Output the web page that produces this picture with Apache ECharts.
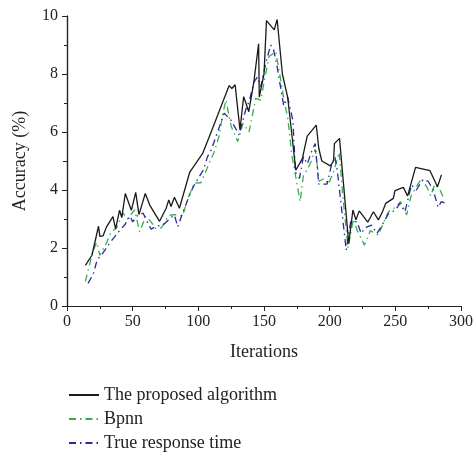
<!DOCTYPE html>
<html>
<head>
<meta charset="utf-8">
<script src="https://cdn.jsdelivr.net/npm/echarts@6/dist/echarts.min.js"></script>
<style>
html, body { margin: 0; padding: 0; background: #fff; }
#chart { width: 476px; height: 456px; }
</style>
</head>
<body>
<div id="chart"></div>
<script>
// values: [iteration, accuracy]
var proposedData = [
	[14,1.4],[19,1.75],[24,2.75],[25,2.4],[27.5,2.42],[30,2.72],[35,3.08],[37,2.66],[40,3.3],[41.7,3.05],
	[44.4,3.88],[49,3.3],[52.3,3.92],[54.8,3.15],[59.6,3.88],[63,3.48],[65.4,3.3],[70.5,2.92],[75.5,3.37],[77.5,3.66],
	[79.2,3.43],[81.8,3.75],[85.6,3.37],[93.5,4.62],[103.3,5.26],[110.8,6.12],[117.2,6.87],[123.5,7.6],[125.5,7.5],[128,7.63],
	[131.7,6.08],[134.5,7.22],[135.8,7.05],[138.4,6.7],[142.2,7.7],[145.9,9.04],[146.4,7.2],[150,8.0],[151.9,9.84],[157.8,9.52],
	[160,9.88],[164,8.0],[168,7.2],[171,6.0],[174.2,4.68],[179.2,5.08],[182.9,5.86],[189.8,6.24],[191.7,5.44],[194,5.0],
	[200.5,4.83],[203,5.0],[203.6,5.6],[207.5,5.78],[214.5,2.16],[217.7,3.31],[220,2.97],[222.5,3.28],[229,2.89],[233.3,3.25],
	[237.1,2.97],[240.2,3.25],[242.7,3.54],[248.5,3.71],[249.7,3.98],[256.1,4.09],[259.3,3.79],[265.4,4.78],[276.3,4.67],[282.1,4.11],
	[285.1,4.52]
];

var bpnnData = [
	[14,0.85],[19.5,1.85],[22.5,2.2],[25,1.75],[30,2.17],[33.8,2.56],[37.6,2.68],[42.7,3.2],[46,3.0],[51.5,3.31],
	[55.3,2.56],[60,3.1],[64,2.9],[68,2.65],[72,2.7],[77,3.1],[80,3.15],[84,3.14],[88,3.1],[92,3.7],
	[97,4.24],[102,4.25],[108.3,4.93],[112,5.3],[116,5.9],[118.5,6.6],[121,7.1],[125,6.2],[130,5.67],[134,6.3],
	[138.6,6.0],[143.7,7.16],[147.5,7.1],[153.8,8.6],[158.9,8.77],[162,8.0],[165.2,7.1],[168,6.5],[171.4,5.15],[174,4.5],
	[177.5,3.6],[180,4.5],[182.8,4.69],[186,5.0],[189,5.4],[192,4.3],[196,4.4],[199,4.2],[203,4.63],[207.3,5.3],
	[210,3.8],[214,2.0],[218,3.0],[221,2.6],[226.5,2.1],[231,2.6],[237,2.45],[244.7,3.25],[250,3.4],[254,3.6],
	[258.6,3.14],[262,3.8],[266,4.11],[270,4.4],[274,4.1],[277,3.8],[280,4.2],[284,4.0],[287,3.7]
];

var trueData = [
	[16,0.78],[20,1.1],[23,1.6],[26.3,1.76],[30,2.0],[33,2.2],[36.4,2.39],[40,2.6],[44,2.8],[48,3.1],
	[50,2.9],[54,3.14],[58,3.2],[60,3.0],[64,2.65],[68,2.75],[73,2.79],[78,3.0],[81.8,3.14],[84.3,2.73],
	[88,3.2],[91.9,3.66],[96,4.1],[100,4.41],[104,4.7],[107,5.15],[110,5.4],[113.4,5.84],[119.7,6.65],[125,6.4],
	[131,5.9],[136,6.76],[139,7.1],[142.4,7.73],[145,7.9],[147.5,7.56],[151,8.3],[155,9.0],[157,8.9],[160,8.25],
	[165,6.9],[168,7.2],[172,6.4],[174,4.6],[177,4.4],[180,5.15],[183,4.9],[186,5.3],[189,5.6],[191.7,4.2],
	[198,4.2],[201.7,4.92],[204,5.15],[206,4.6],[212.6,1.93],[216,2.9],[220.7,2.91],[224,2.5],[227,2.7],[232,2.79],
	[236,2.5],[240,2.8],[245,3.2],[250,3.3],[253.5,3.54],[257.3,3.25],[262.3,4.17],[266,4.0],[271,4.36],[275,4.3],
	[278.8,4.0],[282.6,3.4],[285,3.6],[288,3.55]
];

var seriesNames = ['The proposed algorithm', 'Bpnn', 'True response time'];

var serifFont = '"Liberation Serif", "DejaVu Serif", serif';

var chart = echarts.init(document.getElementById('chart'));

var option = {
	backgroundColor: '#fff',
	animation: false,
	textStyle: { fontFamily: serifFont },
	grid: { left: 67, right: 13, top: 16, bottom: 150 },
	legend: {
		data: seriesNames,
		orient: 'vertical',
		left: 63,
		top: 381,
		height: 80,
		itemWidth: 30,
		itemHeight: 14,
		itemGap: 6,
		itemStyle: { opacity: 0 },
		textStyle: { fontFamily: serifFont, fontSize: 18, color: '#222' }
	},
	xAxis: [{
		type: 'value',
		min: 0,
		max: 300,
		interval: 50,
		name: 'Iterations',
		nameLocation: 'middle',
		nameGap: 37,
		nameTextStyle: { fontFamily: serifFont, fontSize: 18, color: '#222' },
		axisLine: { lineStyle: { color: '#222', width: 1.2 } },
		axisTick: { length: 5, lineStyle: { color: '#222' } },
		minorTick: { show: true, splitNumber: 2, length: 3, lineStyle: { color: '#222' } },
		axisLabel: { fontFamily: serifFont, fontSize: 16, color: '#222', margin: 8 },
		splitLine: { show: false }
	}, {
		type: 'value',
		position: 'top',
		min: 0,
		max: 300,
		axisLine: { show: true, lineStyle: { color: '#222', width: 1.2 } },
		axisTick: { show: false },
		axisLabel: { show: false },
		splitLine: { show: false }
	}],
	yAxis: [{
		type: 'value',
		min: 0,
		max: 10,
		interval: 2,
		name: 'Accuracy (%)',
		nameLocation: 'middle',
		nameGap: 38,
		nameTextStyle: { fontFamily: serifFont, fontSize: 18, color: '#222' },
		axisLine: { show: true, lineStyle: { color: '#222', width: 1.2 } },
		axisTick: { show: true, length: 5, lineStyle: { color: '#222' } },
		minorTick: { show: true, splitNumber: 2, length: 3, lineStyle: { color: '#222' } },
		axisLabel: { fontFamily: serifFont, fontSize: 16, color: '#222', margin: 9 },
		splitLine: { show: false }
	}, {
		type: 'value',
		position: 'right',
		min: 0,
		max: 10,
		interval: 5,
		axisLine: { show: true, lineStyle: { color: '#222', width: 1.2 } },
		axisTick: { show: true, inside: true, length: 4, lineStyle: { color: '#222' } },
		axisLabel: { show: false },
		splitLine: { show: false }
	}],
	series: [
		{
			name: seriesNames[0],
			type: 'line',
			data: proposedData,
			symbol: 'none',
			z: 3,
			lineStyle: { color: '#1a1a1a', width: 1.3 },
			itemStyle: { color: '#1a1a1a' }
		},
		{
			name: seriesNames[1],
			type: 'line',
			data: bpnnData,
			symbol: 'none',
			z: 2,
			lineStyle: { color: '#33b04a', width: 1.3, type: [7, 4, 1.5, 4] },
			itemStyle: { color: '#33b04a' }
		},
		{
			name: seriesNames[2],
			type: 'line',
			data: trueData,
			symbol: 'none',
			z: 2,
			lineStyle: { color: '#2a2a9c', width: 1.3, type: [7, 4, 1.5, 4] },
			itemStyle: { color: '#2a2a9c' }
		}
	]
};

chart.setOption(option);
</script>
</body>
</html>
